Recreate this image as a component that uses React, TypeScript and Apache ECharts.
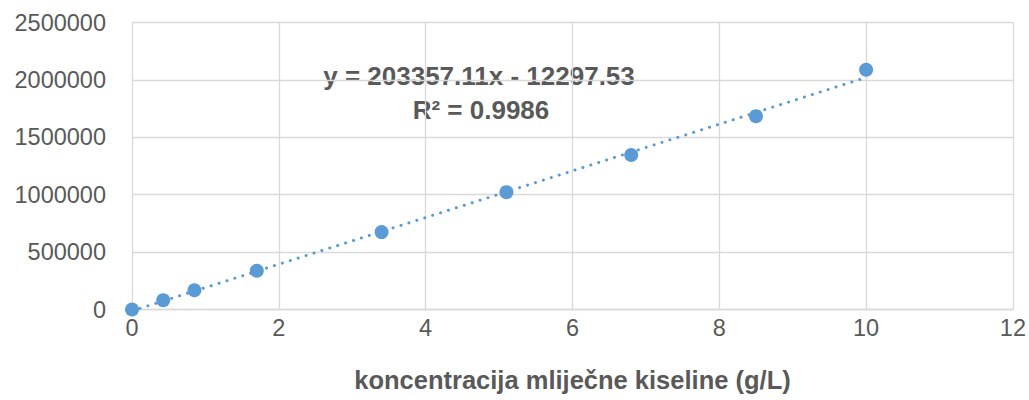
import React, { useEffect, useRef } from "react";
import * as echarts from "echarts";

const concentrations = [0, 0.425, 0.85, 1.7, 3.4, 5.1, 6.8, 8.5, 10];
const areas = [0, 81000, 168000, 337000, 674000, 1022000, 1346000, 1684000, 2088000];
const slope = 203357.11;
const intercept = -12297.53;
const trendX = [0, 10];
const equationText = "y = 203357.11x - 12297.53";
const r2Text = "R² = 0.9986";
const xAxisTitle = "koncentracija mliječne kiseline (g/L)";

const FONT = "Liberation Sans";
const TEXT = "#595959";
const GRID = "#d9d9d9";
const BLUE = "#5B9BD5";

export default function App() {
  const ref = useRef<HTMLDivElement>(null);
  useEffect(() => {
    if (!ref.current) return;
    const chart = echarts.init(ref.current, undefined, { renderer: "svg" });
    const points = concentrations.map((x, i) => [x, areas[i]]);
    const trend = trendX.map((x) => [x, slope * x + intercept]);
    chart.setOption({
      animation: false,
      backgroundColor: "#ffffff",
      textStyle: { fontFamily: FONT },
      grid: { left: 132, right: 15.5, top: 22.5, bottom: 90.5, containLabel: false },
      xAxis: {
        type: "value",
        min: 0,
        max: 12,
        interval: 2,
        name: xAxisTitle,
        nameLocation: "middle",
        nameGap: 57,
        nameTextStyle: { color: TEXT, fontSize: 25.5, fontWeight: "bold", fontFamily: FONT },
        axisLine: { show: true, lineStyle: { color: GRID, width: 1.3 } },
        axisTick: { show: false },
        axisLabel: { color: TEXT, fontSize: 23.5, margin: 6, fontFamily: FONT },
        splitLine: { show: true, lineStyle: { color: GRID, width: 1.3 } },
      },
      yAxis: {
        type: "value",
        min: 0,
        max: 2500000,
        interval: 500000,
        axisLine: { show: false },
        axisTick: { show: false },
        axisLabel: {
          color: TEXT,
          fontSize: 23.5,
          margin: 26,
          fontFamily: FONT,
          formatter: (v: number) => String(v),
        },
        splitLine: { show: true, lineStyle: { color: GRID, width: 1.3 } },
      },
      series: [
        {
          type: "line",
          data: trend,
          symbol: "none",
          clip: true,
          lineStyle: { color: BLUE, width: 3, type: [0.1, 8.2], cap: "round" },
          z: 2,
        },
        {
          type: "scatter",
          data: points,
          symbol: "circle",
          symbolSize: 14,
          itemStyle: { color: BLUE, opacity: 1 },
          z: 3,
        },
      ],
      graphic: [
        {
          type: "text",
          x: 479,
          y: 76,
          style: {
            text: equationText,
            fill: TEXT,
            font: `bold 26px "${FONT}"`,
            align: "center",
            verticalAlign: "middle",
          },
        },
        {
          type: "text",
          x: 481,
          y: 110,
          style: {
            text: r2Text,
            fill: TEXT,
            font: `bold 26px "${FONT}"`,
            align: "center",
            verticalAlign: "middle",
          },
        },
      ],
    });
    return () => chart.dispose();
  }, []);
  return (
    <div
      ref={ref}
      style={{ position: "absolute", left: 0, top: 0, width: 1029, height: 400 }}
    />
  );
}
